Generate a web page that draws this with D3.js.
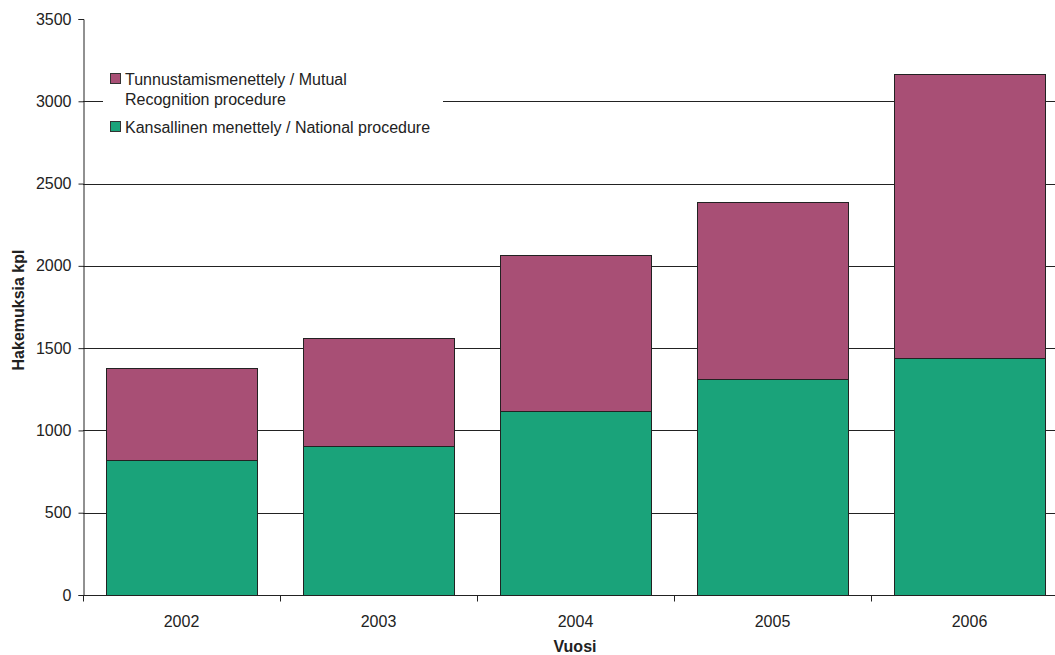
<!DOCTYPE html>
<html lang="fi">
<head>
<meta charset="UTF-8">
<title>Hakemukset</title>
<script src="https://d3js.org/d3.v7.min.js"></script>
<style>
  body { margin: 0; background: #fff; }
  svg { display: block; font-family: "Liberation Sans", Arial, sans-serif; }
</style>
</head>
<body>
<div id="chart"></div>
<script>
// data
var years = ["2002", "2003", "2004", "2005", "2006"];
var national = [818, 903, 1121, 1315, 1440];
var mutual = [564, 661, 946, 1073, 1724];
var yTicks = [0, 500, 1000, 1500, 2000, 2500, 3000, 3500];
var seriesNames = ["Tunnustamismenettely / Mutual|Recognition procedure", "Kansallinen menettely / National procedure"];

var W = 1055, H = 655;
var plotLeft = 83, plotTop = 19, plotBottom = 595, bandRight = 1068;
var fs = 16;

var svg = d3.select("#chart").append("svg")
    .attr("width", W).attr("height", H);

var x = d3.scaleBand().domain(years).range([plotLeft, bandRight]).paddingInner(0.234).paddingOuter(0.117);
var y = d3.scaleLinear().domain([0, 3500]).range([plotBottom, plotTop]);

// gridlines
svg.append("g").selectAll("line")
    .data(yTicks.filter(function (d) { return d > 0 && d < 3500; }))
    .enter().append("line")
    .attr("x1", plotLeft).attr("x2", W)
    .attr("y1", function (d) { return Math.round(y(d)) + 0.5; })
    .attr("y2", function (d) { return Math.round(y(d)) + 0.5; })
    .attr("stroke", "#222").attr("stroke-width", 1);

// stacked bars
var rows = years.map(function (yr, i) { return { year: yr, nat: national[i], mut: mutual[i] }; });
var bars = svg.append("g");
bars.selectAll("rect.nat").data(rows).enter().append("rect")
    .attr("class", "nat")
    .attr("x", function (d) { return Math.round(x(d.year)) + 0.5; })
    .attr("width", Math.round(x.bandwidth()))
    .attr("y", function (d) { return Math.round(y(d.nat)) + 0.5; })
    .attr("height", function (d) { return Math.round(y(0)) - Math.round(y(d.nat)); })
    .attr("fill", "#1aa37a").attr("stroke", "#222");
bars.selectAll("rect.mut").data(rows).enter().append("rect")
    .attr("class", "mut")
    .attr("x", function (d) { return Math.round(x(d.year)) + 0.5; })
    .attr("width", Math.round(x.bandwidth()))
    .attr("y", function (d) { return Math.round(y(d.nat + d.mut)) + 0.5; })
    .attr("height", function (d) { return Math.round(y(d.nat)) - Math.round(y(d.nat + d.mut)); })
    .attr("fill", "#a84f75").attr("stroke", "#222");

// y axis
var yAxis = svg.append("g")
    .attr("transform", "translate(" + (plotLeft + 0.5) + ",0)")
    .call(d3.axisLeft(y).tickValues(yTicks).tickSize(5).tickPadding(7).tickFormat(d3.format("d")));
yAxis.selectAll("text").attr("font-size", fs).attr("fill", "#222").attr("font-family", "Liberation Sans, Arial, sans-serif");
yAxis.selectAll("line, path").attr("stroke", "#222");

// x axis
var xAxis = svg.append("g")
    .attr("transform", "translate(0," + (plotBottom + 0.5) + ")");
xAxis.append("line").attr("x1", plotLeft).attr("x2", W).attr("stroke", "#222");
var boundaries = years.map(function (yr) { return x(yr) - x.step() * x.paddingInner() / 2; });
xAxis.selectAll("line.tick").data(boundaries).enter().append("line")
    .attr("x1", function (d) { return Math.round(d) + 0.5; })
    .attr("x2", function (d) { return Math.round(d) + 0.5; })
    .attr("y1", 0).attr("y2", 6).attr("stroke", "#222");
xAxis.selectAll("text").data(years).enter().append("text")
    .attr("x", function (d) { return x(d) + x.bandwidth() / 2; })
    .attr("y", 31)
    .attr("text-anchor", "middle")
    .attr("font-size", fs).attr("fill", "#222")
    .text(function (d) { return d; });

// axis titles
svg.append("text")
    .attr("transform", "translate(24,310) rotate(-90)")
    .attr("text-anchor", "middle")
    .attr("font-size", fs).attr("font-weight", "bold").attr("fill", "#222")
    .text("Hakemuksia kpl");
svg.append("text")
    .attr("x", 575).attr("y", 652)
    .attr("text-anchor", "middle")
    .attr("font-size", fs).attr("font-weight", "bold").attr("fill", "#222")
    .text("Vuosi");

// legend
var legend = svg.append("g");
legend.append("rect").attr("x", 103).attr("y", 60).attr("width", 340).attr("height", 88).attr("fill", "#fff");
var legColors = ["#a84f75", "#1aa37a"];
var legY = [73, 121];
seriesNames.forEach(function (name, i) {
    legend.append("rect")
        .attr("x", 110.5).attr("y", legY[i] + 0.5).attr("width", 10).attr("height", 10)
        .attr("fill", legColors[i]).attr("stroke", "#333");
    name.split("|").forEach(function (line, j) {
        legend.append("text")
            .attr("x", 125).attr("y", legY[i] + 12 + j * 20)
            .attr("font-size", fs).attr("fill", "#222")
            .text(line);
    });
});
</script>
</body>
</html>
